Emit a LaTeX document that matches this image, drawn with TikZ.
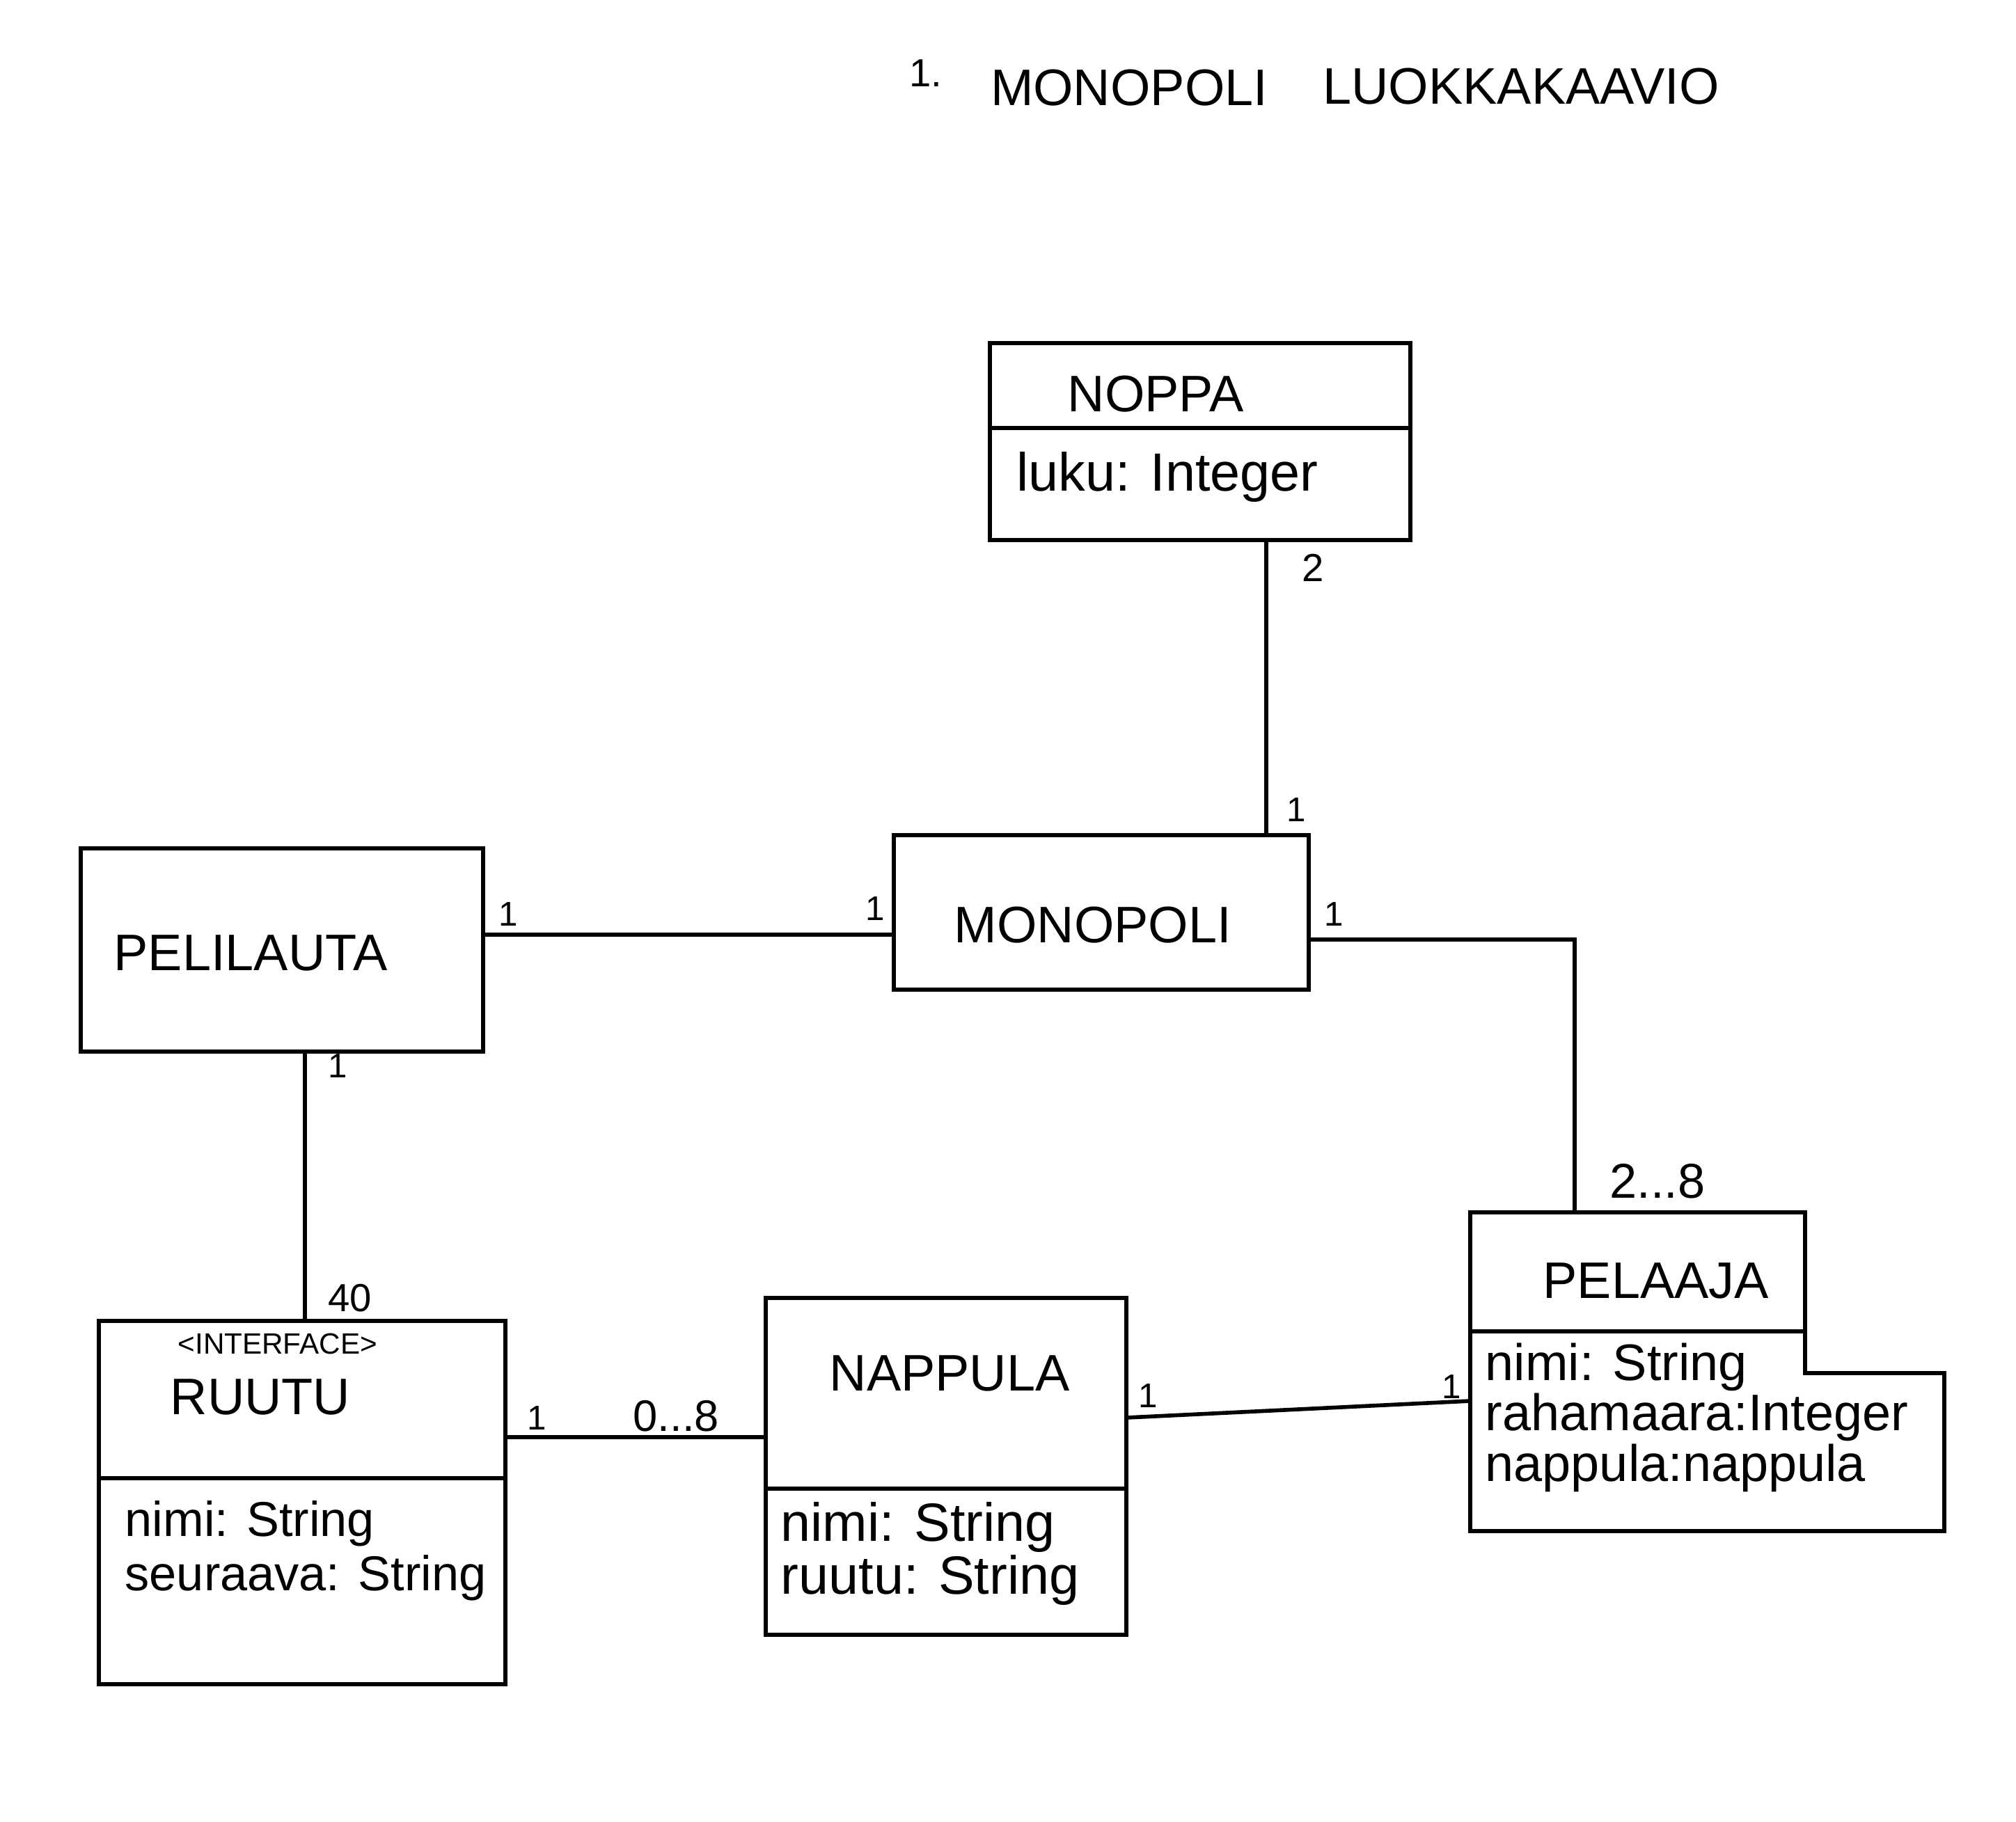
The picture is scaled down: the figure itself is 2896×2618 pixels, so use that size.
\documentclass[tikz,border=0pt]{standalone}
\usepackage{fontspec}
\setmainfont{Liberation Sans}
\begin{document}
\begin{tikzpicture}[x=0.01cm,y=-0.01cm,
  box/.style={draw=black,line width=1.7pt,inner sep=0pt,outer sep=0pt,rectangle},
  ghost/.style={inner sep=0pt,outer sep=0pt,rectangle},
  conn/.style={draw=black,line width=1.6pt},
  cname/.style={anchor=base west,inner sep=0pt,font=\fontsize{21}{23}\selectfont},
  attr/.style={anchor=base west,inner sep=0pt,align=left},
  mult/.style={anchor=base west,inner sep=0pt,font=\fontsize{14}{16}\selectfont},
  multb/.style={anchor=base west,inner sep=0pt,font=\fontsize{18}{20}\selectfont},
  ttl/.style={inner sep=0pt,font=\fontsize{21}{23}\selectfont}]
\useasboundingbox[fill=white] (0,0) rectangle (2896,2618);

% title
\node[ttl,font=\fontsize{16}{18}\selectfont] (tnum) at (1330,105) {1.};
\node[ttl] (t1) at (1622,126) {MONOPOLI};
\node[ttl] (t2) at (2185,124) {LUOKKAKAAVIO};

% NOPPA
\node[box,minimum width=6.04cm,minimum height=2.83cm] (noppa) at (1724,634.5) {};
\draw[conn] (noppa.west |- 0,615) -- (noppa.east |- 0,615);
\node[cname] (noppaN) at (1533,591) {NOPPA};
\node[attr,font=\fontsize{22}{22}\selectfont] (noppaA) at (1460,705) {luku: Integer};

% MONOPOLI
\node[box,minimum width=5.96cm,minimum height=2.22cm] (monopoli) at (1582,1311) {};
\node[cname] (monopoliN) at (1370,1354) {MONOPOLI};

% PELILAUTA
\node[box,minimum width=5.78cm,minimum height=2.92cm] (pelilauta) at (405,1365) {};
\node[cname] (pelilautaN) at (163,1394) {PELILAUTA};

% RUUTU
\node[box,minimum width=5.84cm,minimum height=5.22cm] (ruutu) at (434,2159) {};
\draw[conn] (ruutu.west |- 0,2124) -- (ruutu.east |- 0,2124);
\node[anchor=base west,inner sep=0pt,font=\fontsize{12}{14}\selectfont] (ruutuI) at (255,1945) {<INTERFACE>};
\node[cname] (ruutuN) at (244,2032) {RUUTU};
\node[attr,font=\fontsize{20}{22.1}\selectfont] (ruutuA) at (179,2285) {nimi: String\\seuraava: String};

% NAPPULA
\node[box,minimum width=5.18cm,minimum height=4.84cm] (nappula) at (1359,2107) {};
\draw[conn] (nappula.west |- 0,2139) -- (nappula.east |- 0,2139);
\node[cname] (nappulaN) at (1191,1998) {NAPPULA};
\node[attr,font=\fontsize{22}{19.3}\selectfont] (nappulaA) at (1121,2290) {nimi: String\\ruutu: String};

% PELAAJA
\node[ghost,minimum width=4.81cm,minimum height=4.58cm] (pelaaja) at (2352.5,1971) {};
\coordinate (pstep) at (2793,1973);
\draw[conn,line join=miter] (pelaaja.north west) -- (pelaaja.north east) -- (pelaaja.east |- pstep) -- (pstep) -- (pstep |- pelaaja.south) -- (pelaaja.south west) -- cycle;
\draw[conn] (pelaaja.west |- 0,1913) -- (pelaaja.east |- 0,1913);
\node[cname] (pelaajaN) at (2216,1865) {PELAAJA};
\node[attr,font=\fontsize{21}{18.9}\selectfont] (pelaajaA) at (2133,2128) {nimi: String\\rahamaara:Integer\\nappula:nappula};

% connectors
\coordinate (c1) at (1819,0);
\draw[conn] (noppa.south -| c1) -- (monopoli.north -| c1);
\coordinate (c2) at (0,1343);
\draw[conn] (pelilauta.east |- c2) -- (monopoli.west |- c2);
\coordinate (c3) at (2262,1350);
\draw[conn] (monopoli.east |- c3) -| (pelaaja.north -| c3);
\coordinate (c4) at (438,0);
\draw[conn] (pelilauta.south -| c4) -- (ruutu.north -| c4);
\coordinate (c5) at (0,2065);
\draw[conn] (ruutu.east |- c5) -- (nappula.west |- c5);
\coordinate (c6a) at (0,2037);
\coordinate (c6b) at (0,2013);
\draw[conn] (nappula.east |- c6a) -- (pelaaja.west |- c6b);

% multiplicities
\node[mult,font=\fontsize{16}{18}\selectfont] (m1) at (1870,835) {2};
\node[mult] (m2) at (1848,1180) {1};
\node[mult] (m3) at (716,1330) {1};
\node[mult] (m4) at (1243,1322) {1};
\node[mult] (m5) at (1902,1330) {1};
\node[multb,font=\fontsize{20}{22}\selectfont] (m6) at (2312,1721) {2...8};
\node[mult] (m7) at (471,1548) {1};
\node[mult,font=\fontsize{16}{18}\selectfont] (m8) at (471,1884) {40};
\node[mult] (m9) at (757,2054) {1};
\node[multb] (m10) at (909,2056) {0...8};
\node[mult] (m11) at (1635,2022) {1};
\node[mult] (m12) at (2071,2009) {1};
\end{tikzpicture}
\end{document}
